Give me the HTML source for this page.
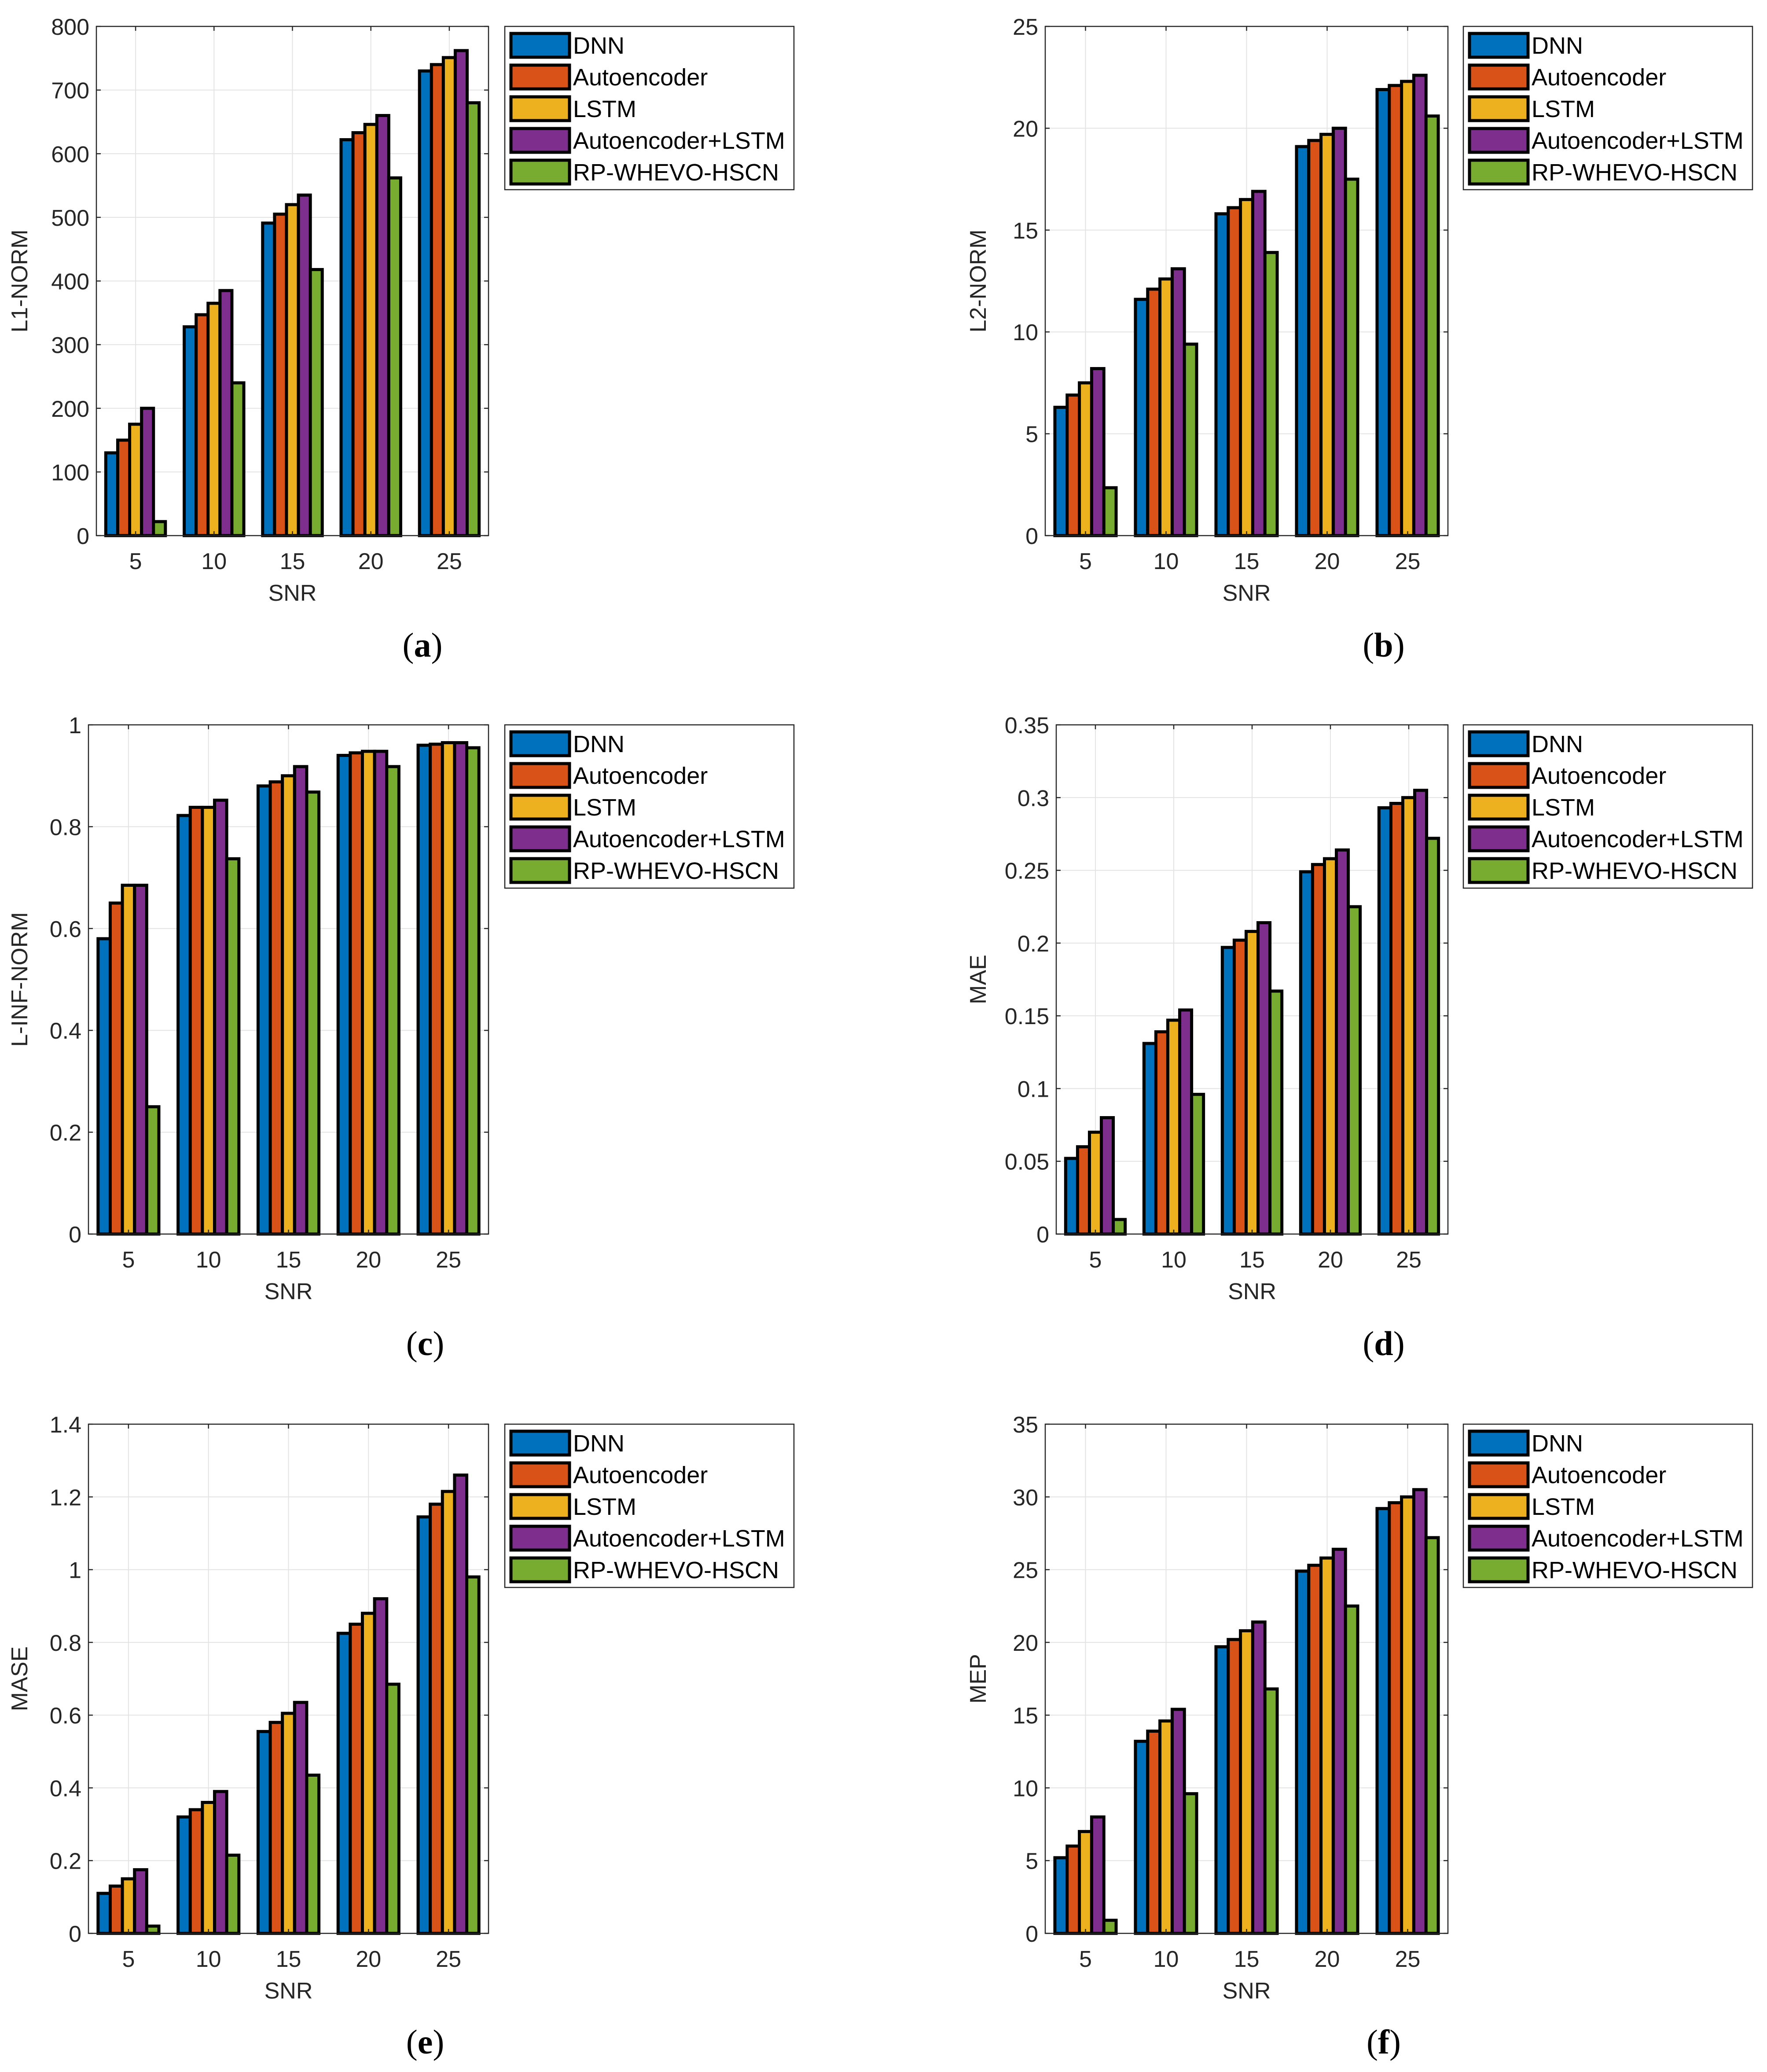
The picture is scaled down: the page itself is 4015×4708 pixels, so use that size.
<!DOCTYPE html>
<html><head><meta charset="utf-8">
<style>html,body{margin:0;padding:0;background:#fff;}svg{display:block;}</style>
</head><body>
<svg id="fig" xmlns="http://www.w3.org/2000/svg" width="4015" height="4708" viewBox="0 0 4015 4708"></svg>
<script>
const categories = ["5","10","15","20","25"];
const seriesNames = ["DNN","Autoencoder","LSTM","Autoencoder+LSTM","RP-WHEVO-HSCN"];
const colors = ["#0072BD","#D95319","#EDB120","#7E2F8E","#77AC30"];

const l1Values = [[130,150,175,200,22],[328,347,365,385,240],[491,505,520,535,418],[622,633,646,660,562],[730,740,751,762,680]];
const l1Ticks = [0,100,200,300,400,500,600,700,800];
const l2Values = [[6.3,6.9,7.5,8.2,2.35],[11.6,12.1,12.6,13.1,9.4],[15.8,16.1,16.5,16.9,13.9],[19.1,19.4,19.7,20.0,17.5],[21.9,22.1,22.3,22.6,20.6]];
const l2Ticks = [0,5,10,15,20,25];
const linfValues = [[0.58,0.65,0.685,0.685,0.25],[0.822,0.838,0.838,0.852,0.737],[0.88,0.888,0.9,0.918,0.868],[0.94,0.945,0.948,0.948,0.918],[0.96,0.962,0.965,0.965,0.955]];
const linfTicks = [0,0.2,0.4,0.6,0.8,1];
const maeValues = [[0.052,0.06,0.07,0.08,0.01],[0.131,0.139,0.147,0.154,0.096],[0.197,0.202,0.208,0.214,0.167],[0.249,0.254,0.258,0.264,0.225],[0.293,0.296,0.300,0.305,0.272]];
const maeTicks = [0,0.05,0.1,0.15,0.2,0.25,0.3,0.35];
const maseValues = [[0.11,0.13,0.15,0.175,0.02],[0.32,0.34,0.36,0.39,0.215],[0.555,0.58,0.605,0.635,0.435],[0.825,0.85,0.88,0.92,0.685],[1.145,1.18,1.215,1.26,0.98]];
const maseTicks = [0,0.2,0.4,0.6,0.8,1,1.2,1.4];
const mepValues = [[5.2,6.0,7.0,8.0,0.9],[13.2,13.9,14.6,15.4,9.6],[19.7,20.2,20.8,21.4,16.8],[24.9,25.3,25.8,26.4,22.5],[29.2,29.6,30.0,30.5,27.2]];
const mepTicks = [0,5,10,15,20,25,30,35];

const NS = "http://www.w3.org/2000/svg";
const svg = document.getElementById("fig");
function mk(tag, attrs, parent, text){
  const e = document.createElementNS(NS, tag);
  for (const k in attrs) e.setAttribute(k, attrs[k]);
  if (text !== undefined) e.textContent = text;
  parent.appendChild(e);
  return e;
}
const FONT = '"Liberation Sans", Arial, sans-serif';

const panels = [
  {id:"a", yl:"L1-NORM", vals:l1Values, ticks:l1Ticks, x0:219, x1:1110, y0:60, y1:1217, lx:1147, ylx:62, cap:960, capy:1492},
  {id:"b", yl:"L2-NORM", vals:l2Values, ticks:l2Ticks, x0:2375, x1:3290, y0:60, y1:1217, lx:3325, ylx:2240, cap:3144, capy:1492},
  {id:"c", yl:"L-INF-NORM", vals:linfValues, ticks:linfTicks, x0:201, x1:1110, y0:1647, y1:2804, lx:1147, ylx:62, cap:966, capy:3079},
  {id:"d", yl:"MAE", vals:maeValues, ticks:maeTicks, x0:2400, x1:3290, y0:1647, y1:2804, lx:3325, ylx:2240, cap:3144, capy:3079},
  {id:"e", yl:"MASE", vals:maseValues, ticks:maseTicks, x0:201, x1:1110, y0:3236, y1:4393, lx:1147, ylx:62, cap:966, capy:4666},
  {id:"f", yl:"MEP", vals:mepValues, ticks:mepTicks, x0:2375, x1:3290, y0:3236, y1:4393, lx:3325, ylx:2240, cap:3144, capy:4666}
];

panels.forEach(p => {
  const g = mk("g", {}, svg);
  
  
  const ymax = p.ticks[p.ticks.length-1];
  const xs = v => p.x0 + (v - 0.5) / 5 * (p.x1 - p.x0);
  const ys = v => p.y1 - v / ymax * (p.y1 - p.y0);
  p.ticks.forEach(t => {
    const ln = mk("line", {x1:p.x0, x2:p.x1, y1:ys(t), y2:ys(t), stroke:"#e3e3e3", "stroke-width":2}, g);
    
    
  });
  categories.forEach((c,i) => {
    const ln = mk("line", {x1:xs(i+1), x2:xs(i+1), y1:p.y0, y2:p.y1, stroke:"#e3e3e3", "stroke-width":2}, g);
    
    
  });
  const bw = 0.152;
  p.vals.forEach((grp, ci) => {
    grp.forEach((v, si) => {
      const cx = ci + 1 + (si - 2) * bw;
      const xl = xs(cx - bw/2), xr = xs(cx + bw/2);
      const r = mk("rect", {x:xl, y:ys(v), width:xr-xl, height:ys(0)-ys(v), fill:colors[si], stroke:"#000", "stroke-width":7}, g);
      
      
    });
  });
  const box = mk("rect", {x:p.x0, y:p.y0, width:p.x1-p.x0, height:p.y1-p.y0, fill:"none", stroke:"#262626", "stroke-width":2.5}, g);
  
  
  p.ticks.forEach(t => {
    mk("line", {x1:p.x0, x2:p.x0+10, y1:ys(t), y2:ys(t), stroke:"#262626", "stroke-width":2.5}, g);
    mk("line", {x1:p.x1-10, x2:p.x1, y1:ys(t), y2:ys(t), stroke:"#262626", "stroke-width":2.5}, g);
    const tx = mk("text", {x:p.x0-16, y:ys(t)+19, "text-anchor":"end", "font-family":FONT, "font-size":52, fill:"#262626"}, g, String(t));
    
    
  });
  categories.forEach((c,i) => {
    mk("line", {x1:xs(i+1), x2:xs(i+1), y1:p.y1, y2:p.y1-10, stroke:"#262626", "stroke-width":2.5}, g);
    mk("line", {x1:xs(i+1), x2:xs(i+1), y1:p.y0, y2:p.y0+10, stroke:"#262626", "stroke-width":2.5}, g);
    const tx = mk("text", {x:xs(i+1), y:p.y1+76, "text-anchor":"middle", "font-family":FONT, "font-size":52, fill:"#262626"}, g, c);
    
    
  });
  const xt = mk("text", {x:(p.x0+p.x1)/2, y:p.y1+148, "text-anchor":"middle", "font-family":FONT, "font-size":52, fill:"#262626"}, g, "SNR");
  
  
  const ycy = (p.y0+p.y1)/2;
  const yt = mk("text", {x:p.ylx, y:ycy, "text-anchor":"middle", "font-family":FONT, "font-size":52, fill:"#262626", transform:"rotate(-90 "+p.ylx+" "+ycy+")"}, g, p.yl);
  
  
  const lg = mk("g", {}, g);
  
  
  mk("rect", {x:p.lx, y:p.y0, width:657, height:371, fill:"#fff", stroke:"#262626", "stroke-width":2.5}, lg);
  seriesNames.forEach((n, si) => {
    const cy = p.y0 + 43 + si*72;
    const e = mk("g", {}, lg);
    
    
    mk("rect", {x:p.lx+14, y:cy-27, width:133, height:54, fill:colors[si], stroke:"#000", "stroke-width":7}, e);
    mk("text", {x:p.lx+155, y:cy+19, "font-family":FONT, "font-size":54, fill:"#000"}, e, n);
  });
  const cap = mk("text", {x:p.cap, y:p.capy, "text-anchor":"middle", "font-family":'"Liberation Serif", serif', "font-size":78, fill:"#000"}, g);
  
  
  mk("tspan", {}, cap, "(");
  mk("tspan", {"font-weight":"bold"}, cap, p.id);
  mk("tspan", {}, cap, ")");
});
</script>
</body></html>
